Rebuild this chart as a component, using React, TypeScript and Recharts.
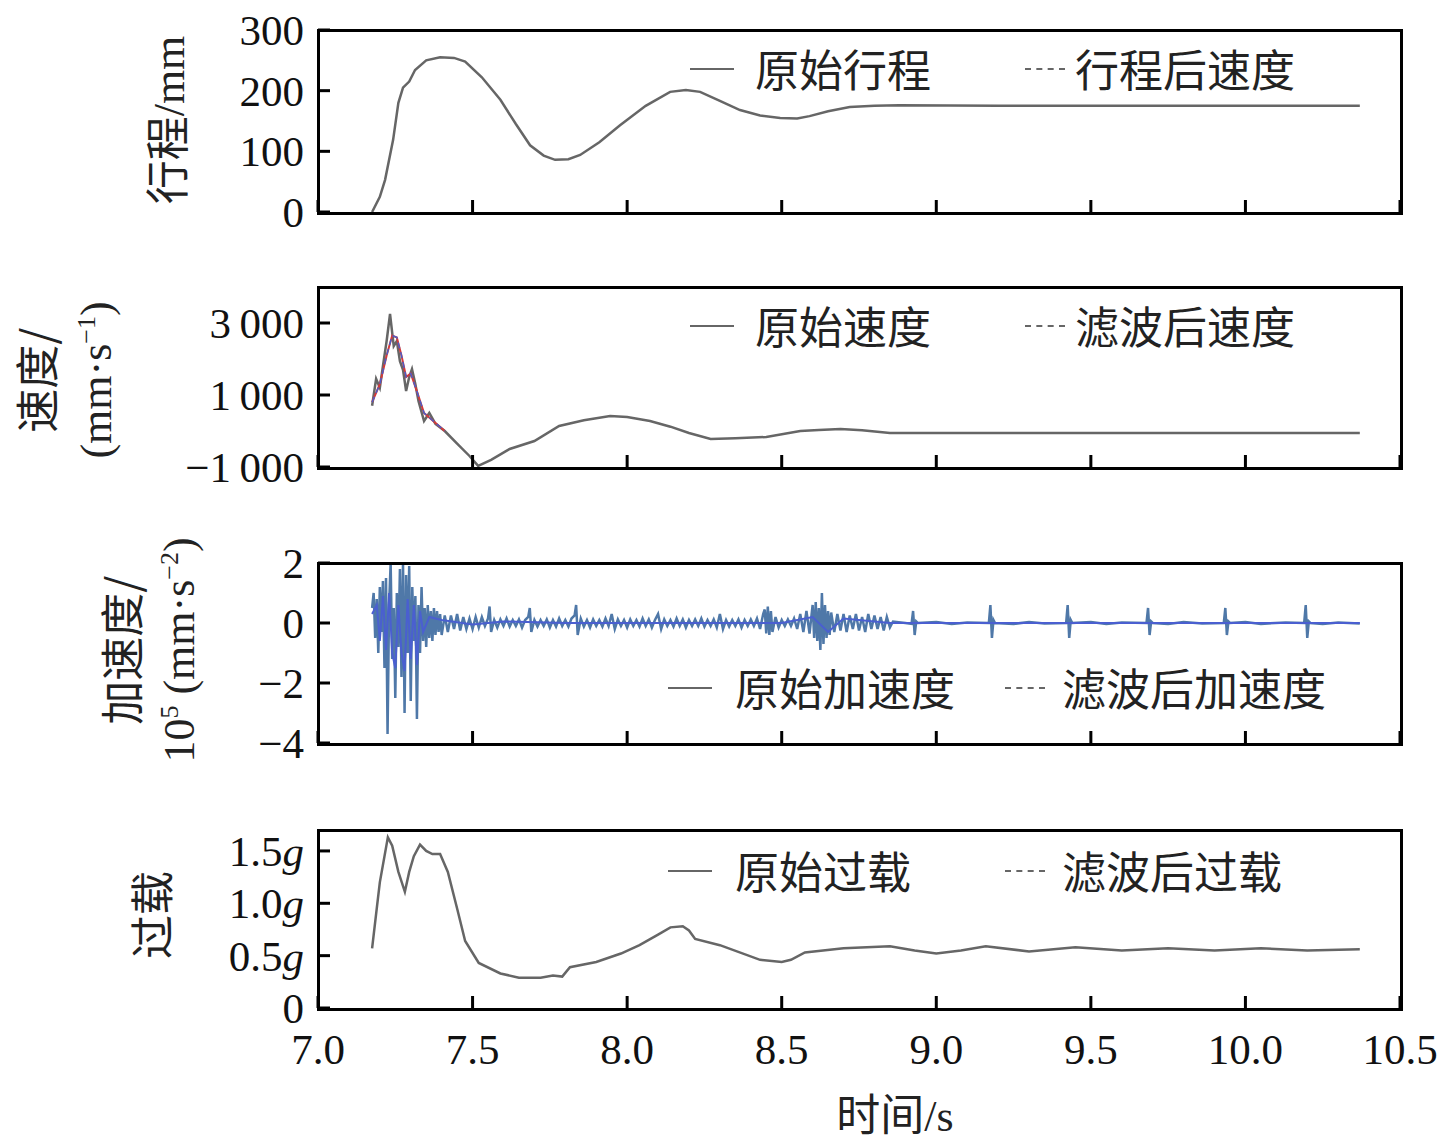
import React from "react";
import { LineChart, Line, XAxis, YAxis } from "recharts";

// ---- data ----
const xTicks = [7.0, 7.5, 8.0, 8.5, 9.0, 9.5, 10.0, 10.5];

const strokeT = [7.175, 7.2, 7.217, 7.243, 7.26, 7.275, 7.295, 7.314, 7.35, 7.395, 7.44, 7.476, 7.53, 7.59, 7.64, 7.686, 7.73, 7.767, 7.81, 7.848, 7.91, 7.977, 8.06, 8.139, 8.19, 8.236, 8.3, 8.365, 8.43, 8.495, 8.55, 8.59, 8.65, 8.72, 8.8, 8.88, 9.2, 9.6, 10.0, 10.37];
const strokeV = [0, 25, 53, 119, 180, 205, 215, 234, 250, 255, 254, 248, 222, 185, 145, 110, 93, 86, 87, 94, 115, 143, 175, 198, 201, 198, 183, 168, 159, 155, 154, 158, 166, 173, 175, 176, 175, 175, 175, 175];

const velT = [7.175, 7.188, 7.2, 7.21, 7.222, 7.233, 7.245, 7.255, 7.265, 7.275, 7.285, 7.295, 7.304, 7.315, 7.325, 7.343, 7.36, 7.38, 7.41, 7.45, 7.49, 7.518, 7.56, 7.62, 7.7, 7.78, 7.86, 7.945, 8.0, 8.074, 8.14, 8.2, 8.27, 8.35, 8.45, 8.56, 8.62, 8.69, 8.76, 8.85, 9.0, 9.5, 10.0, 10.37];
const velV = [700, 1450, 1200, 1800, 2500, 3250, 2360, 2500, 1940, 1700, 1110, 1500, 1720, 1300, 833, 278, 500, 200, 0, -350, -694, -970, -800, -500, -278, 139, 300, 417, 390, 278, 120, -56, -222, -200, -167, 0, 30, 56, 20, -56, -56, -56, -56, -56];

const velFiltT = [7.175, 7.2, 7.222, 7.24, 7.255, 7.27, 7.285, 7.3, 7.32, 7.343, 7.37, 7.41];
const velFiltV = [800, 1300, 2100, 2650, 2600, 2100, 1500, 1600, 1100, 500, 300, 0];

// acceleration, [time, value] pairs
const accRaw: [number, number][] = [
  [7.175, 0.5], [7.18, 1.0], [7.185, -0.5], [7.19, 0.8], [7.195, -1.0], [7.2, 1.2], [7.205, -0.3], [7.21, 1.4], [7.215, -1.5], [7.22, 1.5],
  [7.225, -3.7], [7.23, 0.6], [7.235, 2.0], [7.24, -1.2], [7.245, 0.5], [7.25, -2.5], [7.255, 1.0], [7.26, -0.8], [7.265, 1.8], [7.27, -1.8],
  [7.275, 2.0], [7.28, -3.0], [7.285, 1.6], [7.29, -1.0], [7.295, 1.9], [7.3, -2.6], [7.305, 1.2], [7.31, -0.6], [7.315, 0.9], [7.32, -3.2],
  [7.325, 0.6], [7.33, -1.0], [7.335, 1.2], [7.34, -0.6], [7.345, 0.5], [7.35, -0.8], [7.355, 0.6], [7.36, -0.5], [7.365, 0.4], [7.37, -0.6],
  [7.375, 0.5], [7.38, -0.4], [7.385, 0.4], [7.39, -0.3], [7.395, 0.3], [7.4, -0.4], [7.41, 0.25], [7.42, -0.3], [7.43, 0.25], [7.44, -0.2],
  [7.45, 0.3], [7.46, -0.25], [7.47, 0.2], [7.48, -0.2], [7.49, 0.15], [7.5, -0.2], [7.51, 0.2], [7.52, -0.15], [7.53, 0.2], [7.54, -0.1],
  [7.55, 0.15], [7.555, 0.55], [7.56, -0.3], [7.57, 0.1], [7.58, -0.15], [7.59, 0.12], [7.6, -0.1], [7.61, 0.15], [7.62, -0.12], [7.63, 0.1],
  [7.64, -0.1], [7.65, 0.12], [7.66, -0.15], [7.67, 0.1], [7.68, 0.2], [7.685, 0.5], [7.69, -0.3], [7.7, 0.1], [7.71, -0.12], [7.72, 0.1],
  [7.73, -0.1], [7.74, 0.12], [7.75, -0.15], [7.76, 0.1], [7.77, -0.12], [7.78, 0.15], [7.79, -0.1], [7.8, 0.1], [7.81, -0.12], [7.82, 0.15],
  [7.83, 0.25], [7.835, 0.6], [7.84, -0.4], [7.85, 0.15], [7.86, -0.12], [7.87, 0.1], [7.88, -0.15], [7.89, 0.12], [7.9, -0.1], [7.91, 0.1],
  [7.92, -0.12], [7.93, 0.15], [7.94, -0.1], [7.95, 0.3], [7.96, -0.2], [7.97, 0.12], [7.98, -0.1], [7.99, 0.1], [8.0, -0.15], [8.01, 0.12],
  [8.02, -0.1], [8.03, 0.1], [8.04, -0.12], [8.05, 0.15], [8.06, -0.1], [8.07, 0.12], [8.08, -0.15], [8.09, 0.1], [8.1, 0.3], [8.11, -0.2],
  [8.12, 0.12], [8.13, -0.1], [8.14, 0.1], [8.15, -0.12], [8.16, 0.15], [8.17, -0.1], [8.18, 0.12], [8.19, -0.15], [8.2, 0.1], [8.21, -0.1],
  [8.22, 0.12], [8.23, -0.1], [8.24, 0.15], [8.25, -0.12], [8.26, 0.1], [8.27, -0.1], [8.28, 0.12], [8.29, -0.15], [8.3, 0.3], [8.31, -0.2],
  [8.32, 0.1], [8.33, -0.12], [8.34, 0.1], [8.35, -0.1], [8.36, 0.12], [8.37, -0.15], [8.38, 0.1], [8.39, -0.1], [8.4, 0.12], [8.41, -0.1],
  [8.42, 0.15], [8.43, -0.2], [8.44, 0.3], [8.445, 0.45], [8.45, -0.35], [8.455, 0.55], [8.46, -0.4], [8.465, 0.4], [8.47, -0.3], [8.48, 0.2],
  [8.49, -0.15], [8.5, 0.1], [8.51, -0.1], [8.52, 0.12], [8.53, -0.1], [8.54, 0.15], [8.55, -0.2], [8.56, 0.3], [8.57, -0.3], [8.58, 0.4],
  [8.59, -0.35], [8.6, 0.6], [8.605, -0.5], [8.61, 0.7], [8.615, -0.6], [8.62, 0.5], [8.625, -0.9], [8.63, 1.0], [8.635, -0.7], [8.64, 0.6],
  [8.645, -0.5], [8.65, 0.4], [8.655, -0.4], [8.66, 0.35], [8.67, -0.3], [8.68, 0.3], [8.69, -0.25], [8.7, 0.3], [8.71, -0.3], [8.72, 0.25],
  [8.73, -0.2], [8.74, 0.3], [8.75, -0.25], [8.76, 0.2], [8.77, -0.3], [8.78, 0.3], [8.79, -0.2], [8.8, 0.25], [8.81, -0.2], [8.82, 0.2],
  [8.83, -0.25], [8.84, 0.2], [8.85, -0.15], [8.86, 0.05], [8.9, 0.0], [8.92, -0.03], [8.925, 0.4], [8.93, -0.4], [8.935, 0.05], [8.94, 0.0],
  [9.0, 0.03], [9.05, -0.03], [9.1, 0.02], [9.17, 0.0], [9.175, 0.6], [9.18, -0.5], [9.185, 0.1], [9.19, 0.0], [9.25, -0.03], [9.3, 0.03],
  [9.35, -0.02], [9.42, 0.0], [9.425, 0.6], [9.43, -0.5], [9.435, 0.1], [9.44, 0.0], [9.5, 0.03], [9.55, -0.03], [9.6, 0.02], [9.68, 0.0],
  [9.685, 0.5], [9.69, -0.4], [9.695, 0.05], [9.7, 0.0], [9.75, -0.03], [9.8, 0.03], [9.86, -0.02], [9.93, 0.0], [9.935, 0.5], [9.94, -0.4],
  [9.945, 0.05], [9.95, 0.0], [10.0, 0.03], [10.05, -0.03], [10.13, 0.02], [10.19, 0.0], [10.195, 0.6], [10.2, -0.5], [10.205, 0.05], [10.21, 0.0],
  [10.25, -0.03], [10.3, 0.02], [10.37, -0.02],
];

const accFilt: [number, number][] = [
  [7.175, 0.3], [7.19, 0.6], [7.2, -0.6], [7.21, 0.9], [7.22, -0.9], [7.23, 1.0], [7.24, -1.0], [7.25, -1.5], [7.26, 0.6], [7.27, -1.0],
  [7.28, -1.6], [7.29, 0.8], [7.3, -1.2], [7.31, 0.6], [7.32, -1.4], [7.33, 0.4], [7.34, -0.3], [7.36, 0.2], [7.4, 0.1], [7.5, -0.05],
  [7.6, 0.05], [7.8, 0.0], [8.0, 0.0], [8.3, 0.0], [8.5, 0.0], [8.6, 0.2], [8.65, -0.3], [8.7, 0.15], [8.85, 0.0], [9.0, 0.0], [10.37, 0.0],
];

const loadT = [7.175, 7.19, 7.2, 7.226, 7.24, 7.26, 7.281, 7.295, 7.31, 7.33, 7.35, 7.37, 7.395, 7.42, 7.45, 7.476, 7.52, 7.59, 7.65, 7.72, 7.76, 7.79, 7.815, 7.9, 7.98, 8.04, 8.1, 8.14, 8.18, 8.2, 8.22, 8.3, 8.43, 8.5, 8.53, 8.575, 8.7, 8.85, 8.93, 9.0, 9.08, 9.16, 9.3, 9.45, 9.6, 9.75, 9.9, 10.05, 10.2, 10.37];
const loadV = [0.57, 0.95, 1.2, 1.63, 1.55, 1.3, 1.11, 1.3, 1.45, 1.56, 1.5, 1.47, 1.47, 1.3, 0.95, 0.64, 0.43, 0.33, 0.29, 0.29, 0.31, 0.3, 0.39, 0.44, 0.52, 0.6, 0.7, 0.77, 0.78, 0.74, 0.66, 0.6, 0.46, 0.44, 0.46, 0.53, 0.57, 0.59, 0.55, 0.52, 0.55, 0.59, 0.54, 0.58, 0.55, 0.57, 0.55, 0.57, 0.55, 0.56];

const zip = (t: number[], v: number[]) => t.map((x, i) => ({ t: x, v: v[i] }));
const fromPairs = (p: [number, number][]) => p.map(([t, v]) => ({ t, v }));

const SERIF = "'Liberation Serif', 'DejaVu Serif', serif";
const CJK = "'Noto Sans CJK SC', sans-serif";
const FS = 43;
const PL = 318;
const PR = 1400;

const fmtX = (v: number) => v.toFixed(1);

function XTick({ x, y, payload, labels }: any) {
  return (
    <g>
      <line x1={x} x2={x} y1={y} y2={y - 12} stroke="#000" strokeWidth={3} />
      {labels && (
        <text x={x} y={y + 56} textAnchor="middle" fontSize={FS} fontFamily={SERIF} fill="#111">
          {fmtX(payload.value)}
        </text>
      )}
    </g>
  );
}

function YTick({ x, y, payload, fmt }: any) {
  const s: string = fmt(payload.value);
  const isG = s.endsWith("g") && s !== "0";
  return (
    <g>
      <line x1={x} x2={x + 12} y1={y} y2={y} stroke="#000" strokeWidth={3} />
      <text x={x - 14} y={y + 15} textAnchor="end" fontSize={FS} fontFamily={SERIF} fill="#111">
        {isG ? (
          <>
            {s.slice(0, -1)}
            <tspan fontStyle="italic">g</tspan>
          </>
        ) : (
          s
        )}
      </text>
    </g>
  );
}

function Legend({ top, a, b, l1, t1, l2, t2 }: any) {
  const txt: React.CSSProperties = { position: "absolute", top: top - 30, fontFamily: CJK, fontSize: 44, color: "#222", whiteSpace: "nowrap", lineHeight: "60px" };
  return (
    <>
      <div style={{ position: "absolute", left: l1, top: top, width: 44, borderTop: "2px solid #666" }} />
      <div style={{ ...txt, left: t1 }}>{a}</div>
      <div style={{ position: "absolute", left: l2, top: top, width: 40, borderTop: "2px dashed #666" }} />
      <div style={{ ...txt, left: t2 }}>{b}</div>
    </>
  );
}

function Panel({ top, bottom, domain, ticks, fmt, lines, labels }: any) {
  const extra = labels ? 80 : 30;
  return (
    <div style={{ position: "absolute", left: 0, top: 0 }}>
      <LineChart width={1449} height={bottom + extra} margin={{ top, right: 1449 - PR, left: PL - 100, bottom: extra - 1 }}>
        <XAxis dataKey="t" type="number" domain={[7, 10.5]} ticks={xTicks} axisLine={false} tickLine={false} tickSize={0} tickMargin={0} height={1} allowDuplicatedCategory={false} tick={<XTick labels={labels} />} interval={0} />
        <YAxis type="number" domain={domain} ticks={ticks} width={100} axisLine={false} tickLine={false} tickSize={0} tickMargin={0} allowDataOverflow tick={<YTick fmt={fmt} />} interval={0} />
        {lines.map((l: any, i: number) => (
          <Line key={i} data={l.data} dataKey="v" type="linear" stroke={l.color} strokeWidth={l.w || 2.5} strokeDasharray={l.dash} dot={false} isAnimationActive={false} />
        ))}
      </LineChart>
      <div style={{ position: "absolute", left: PL - 1, top: top - 1, width: PR - PL - 2, height: bottom - top - 2, border: "3px solid #000", pointerEvents: "none" }} />
    </div>
  );
}

function VLabel({ cx, cy, children }: any) {
  return (
    <div style={{ position: "absolute", left: cx, top: cy, transform: "translate(-50%,-50%) rotate(-90deg)", fontFamily: CJK, fontSize: 44, color: "#222", whiteSpace: "nowrap" }}>
      {children}
    </div>
  );
}

export default function App() {
  const num = (v: number) => String(v);
  const sp = (v: number) => (Math.abs(v) >= 1000 ? (v < 0 ? "\u2212" : "") + Math.floor(Math.abs(v) / 1000) + "\u2009000" : String(v));
  const acc = (v: number) => (v < 0 ? "\u2212" + Math.abs(v) : String(v));
  const g = (v: number) => (v === 0 ? "0" : v.toFixed(1) + "g");
  const ser = { fontFamily: SERIF };
  return (
    <div style={{ position: "absolute", left: 0, top: 0, width: 1449, height: 1146, background: "#fff", overflow: "hidden" }}>
      <Panel top={30} bottom={212} domain={[0, 300]} ticks={[0, 100, 200, 300]} fmt={num}
        lines={[{ data: zip(strokeT, strokeV), color: "#666" }]} />
      <Panel top={287} bottom={467} domain={[-1000, 4000]} ticks={[-1000, 1000, 3000]} fmt={sp}
        lines={[{ data: zip(velT, velV), color: "#666" }, { data: zip(velFiltT, velFiltV), color: "#d23a3a", w: 2 }, { data: zip(velFiltT, velFiltV), color: "#4a5fc8", w: 1.5, dash: "6 4" }]} />
      <Panel top={563} bottom={743} domain={[-4, 2]} ticks={[-4, -2, 0, 2]} fmt={acc}
        lines={[{ data: fromPairs(accRaw), color: "#4f78a8", w: 2.5 }, { data: fromPairs(accFilt), color: "#4a5fd0", w: 2 }]} />
      <Panel top={830} bottom={1008} domain={[0, 1.7]} ticks={[0, 0.5, 1.0, 1.5]} fmt={g} labels
        lines={[{ data: zip(loadT, loadV), color: "#666" }]} />

      <Legend top={68} a="原始行程" b="行程后速度" l1={690} t1={755} l2={1025} t2={1075} />
      <Legend top={325} a="原始速度" b="滤波后速度" l1={690} t1={755} l2={1025} t2={1075} />
      <Legend top={687} a="原始加速度" b="滤波后加速度" l1={668} t1={735} l2={1005} t2={1062} />
      <Legend top={870} a="原始过载" b="滤波后过载" l1={668} t1={735} l2={1005} t2={1062} />

      <VLabel cx={165} cy={120}>行程<span style={ser}>/mm</span></VLabel>
      <VLabel cx={35} cy={380}>速度/</VLabel>
      <VLabel cx={92} cy={380}><span style={ser}>(mm·s<sup style={{ fontSize: 26 }}>−1</sup>)</span></VLabel>
      <VLabel cx={120} cy={650}>加速度/</VLabel>
      <VLabel cx={175} cy={650}><span style={ser}>10<sup style={{ fontSize: 26 }}>5</sup> (mm·s<sup style={{ fontSize: 26 }}>−2</sup>)</span></VLabel>
      <VLabel cx={150} cy={915}>过载</VLabel>
      <div style={{ position: "absolute", left: 895, top: 1112, transform: "translate(-50%,-50%)", fontFamily: CJK, fontSize: 44, color: "#222" }}>
        时间<span style={ser}>/s</span>
      </div>
    </div>
  );
}
